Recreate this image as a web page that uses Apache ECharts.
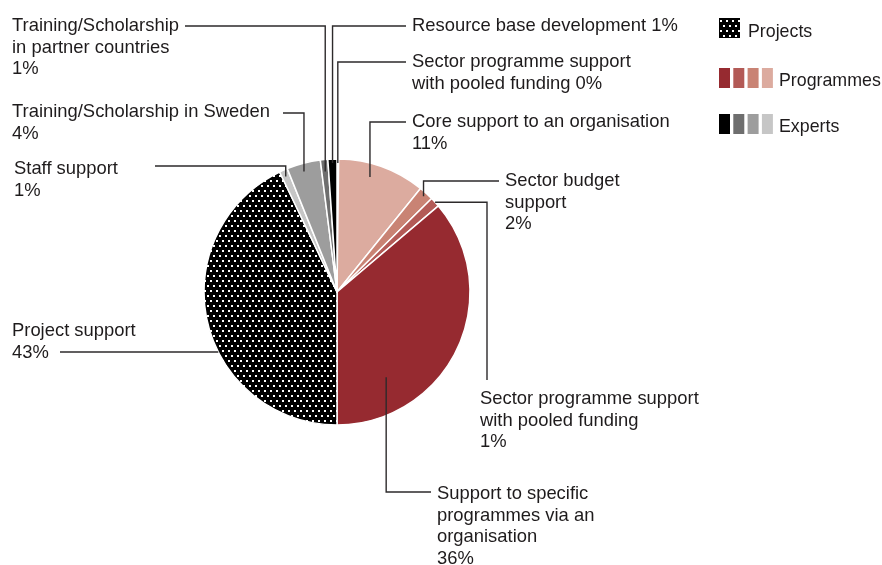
<!DOCTYPE html>
<html><head><meta charset="utf-8">
<script src="https://cdn.jsdelivr.net/npm/echarts@6/dist/echarts.min.js"></script>
<style>html,body{margin:0;padding:0;background:#fff}#c{width:882px;height:565px}</style>
</head><body><div id="c"></div>
<script>
// ---- data ----
const categories = [
  'Sector programme support\nwith pooled funding',
  'Core support to an organisation',
  'Sector budget\nsupport',
  'Sector programme support\nwith pooled funding',
  'Support to specific\nprogrammes via an\norganisation',
  'Project support',
  'Staff support',
  'Training/Scholarship in Sweden',
  'Training/Scholarship\nin partner countries',
  'Resource base development'
];
const values = [0.2, 10.6, 1.8, 1.2, 36.2, 42.9, 1.0, 4.1, 0.9, 1.1];
const groups = ['Programmes','Programmes','Programmes','Programmes','Programmes','Projects','Experts','Experts','Experts','Experts'];
const legendNames = ['Projects', 'Programmes', 'Experts'];

// ---- styles / layout ----
const FONT = '"Liberation Sans", Arial, sans-serif';
const FS = 18.4;
const TXT = '#1e1b1c';
const LINE = '#2d2a2b';
const programmeColors = ['#962a30', '#b35a56', '#c98374', '#dcab9f'];
const expertColors = ['#000000', '#6e6e6e', '#9d9d9d', '#c6c6c6'];

const tile = document.createElement('canvas');
tile.width = 6; tile.height = 10;
const g = tile.getContext('2d');
g.fillStyle = '#000'; g.fillRect(0, 0, 6, 10);
g.fillStyle = '#fff'; g.fillRect(0, 0, 2, 2); g.fillRect(3, 5, 2, 2);
const dotPattern = { image: tile, repeat: 'repeat' };

const sliceColors = ['#b35a56', '#dcab9f', '#c98374', '#b35a56', '#962a30', dotPattern,
                     '#c6c6c6', '#9d9d9d', '#6e6e6e', '#000000'];

const CX = 337, CY = 292, R = 133;
const labelLayouts = [
  {x: 412, y: 51,  sep: ' ',  type: 'v',  lx: 406, ly: 62,  frac: 0.5,  rf: 0.97},
  {x: 412, y: 111, sep: '\n', type: 'v',  lx: 406, ly: 122, frac: 0.4,  rf: 0.9},
  {x: 505, y: 170, sep: '\n', type: 'v',  lx: 499, ly: 181, frac: 0.5,  rf: 0.97},
  {x: 480, y: 388, sep: '\n', type: 'hv', lx: 487, ly: 380, frac: 0.5,  rf: 1.0},
  {x: 437, y: 483, sep: '\n', type: 'v',  lx: 431, ly: 492, frac: 0.77, rf: 0.74},
  {x: 12,  y: 320, sep: '\n', type: 'h',  lx: 60,  ly: 352, rf: 1.0},
  {x: 14,  y: 158, sep: '\n', type: 'v',  lx: 155, ly: 166, frac: 0.45, rf: 0.95},
  {x: 12,  y: 101, sep: '\n', type: 'v',  lx: 283, ly: 113, frac: 0.45, rf: 0.94},
  {x: 12,  y: 15,  sep: '\n', type: 'v',  lx: 185, ly: 26,  frac: 0.5,  rf: 0.91},
  {x: 412, y: 15,  sep: ' ',  type: 'v',  lx: 406, ly: 26,  frac: 0.5,  rf: 0.97}
];

const chart = echarts.init(document.getElementById('c'), null, {renderer: 'canvas'});

const total = values.reduce((a, b) => a + b, 0);
function sliceLayout(i) {
  try {
    const l = chart.getModel().getSeriesByIndex(0).getData().getItemLayout(i);
    if (l && l.startAngle != null) return l;
  } catch (e) {}
  let cum = 0;
  for (let k = 0; k < i; k++) cum += values[k];
  const s = -Math.PI / 2 + cum / total * Math.PI * 2;
  return {cx: CX, cy: CY, r: R, startAngle: s, endAngle: s + values[i] / total * Math.PI * 2};
}

function leaderPoints(i) {
  const L = labelLayouts[i];
  const lay = sliceLayout(i);
  const cx = lay.cx, cy = lay.cy, r = lay.r;
  if (L.type === 'h') {
    const rr = r * L.rf, dy = L.ly - cy;
    const dx = Math.sqrt(Math.max(rr * rr - dy * dy, 0));
    const ax = L.lx < cx ? cx - dx : cx + dx;
    return [[ax, L.ly], [L.lx, L.ly]];
  }
  const a = lay.startAngle + (lay.endAngle - lay.startAngle) * L.frac;
  const ax = cx + r * L.rf * Math.cos(a), ay = cy + r * L.rf * Math.sin(a);
  if (L.type === 'v') return [[ax, ay], [ax, L.ly], [L.lx, L.ly]];
  return [[ax, ay], [L.lx, ay], [L.lx, L.ly]];
}

const pieData = values.map((v, i) => ({
  name: categories[i],
  value: v,
  itemStyle: {color: sliceColors[i]}
}));

// legend graphics
const LFS = 17.8;
const legendGraphics = [];
legendGraphics.push({type: 'rect', shape: {x: 719, y: 18, width: 21, height: 20}, style: {fill: dotPattern}});
legendGraphics.push({type: 'text', x: 748, y: 32, style: {text: legendNames[0], font: LFS + 'px ' + FONT, fill: TXT, textVerticalAlign: 'middle'}});
[programmeColors, expertColors].forEach((cols, gi) => {
  const y0 = gi === 0 ? 68 : 114;
  cols.forEach((c, k) => {
    legendGraphics.push({type: 'rect', shape: {x: 719 + k * 14.3, y: y0, width: 11, height: 20}, style: {fill: c}});
  });
  legendGraphics.push({type: 'text', x: 779, y: y0 + 13, style: {text: legendNames[gi + 1], font: LFS + 'px ' + FONT, fill: TXT, textVerticalAlign: 'middle'}});
});

chart.setOption({
  animation: false,
  backgroundColor: '#fff',
  graphic: legendGraphics,
  series: [{
    type: 'pie',
    center: [CX, CY],
    radius: R,
    startAngle: 90,
    clockwise: true,
    avoidLabelOverlap: false,
    minShowLabelAngle: 0,
    data: pieData,
    itemStyle: {borderColor: '#fff', borderWidth: 1.5},
    emphasis: {disabled: true},
    label: {
      show: true,
      position: 'outside',
      fontFamily: FONT,
      fontSize: FS,
      lineHeight: 21.7,
      color: TXT,
      formatter: p => p.name + labelLayouts[p.dataIndex].sep + Math.round(values[p.dataIndex]) + '%'
    },
    labelLine: {show: false},
    labelLayout: function (p) {
      const L = labelLayouts[p.dataIndex];
      return {x: L.x, y: L.y, align: 'left', verticalAlign: 'top'};
    }
  }]
});

// leader lines drawn above the slices, from the pie's own layout
const leaderGraphics = values.map((v, i) => ({
  type: 'polyline',
  z: 100,
  silent: true,
  shape: {points: leaderPoints(i)},
  style: {stroke: LINE, lineWidth: 1.4, fill: null}
}));
chart.setOption({graphic: legendGraphics.concat(leaderGraphics)});
</script>
</body></html>
